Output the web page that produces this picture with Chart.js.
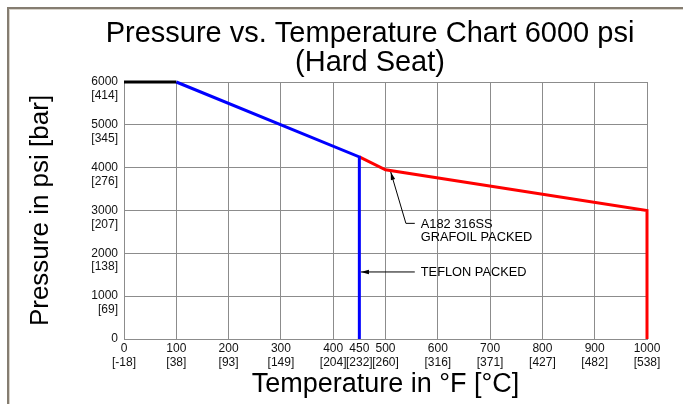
<!DOCTYPE html>
<html lang="en">
  <head>
    <meta charset="UTF-8" />
    <meta name="viewport" content="width=device-width, initial-scale=1.0" />
    <title>Pressure vs. Temperature Chart</title>
    <script src="https://cdn.jsdelivr.net/npm/chart.js@4.4.0/dist/chart.umd.min.js"></script>
    <style>
      body {
        margin: 0;
        background-color: white;
        overflow: hidden;
      }
      .frame {
        position: absolute;
        left: 7px;
        top: 7px;
        width: 760px;
        height: 460px;
        border-left: 2px solid #857d71;
        border-top: 2px solid #857d71;
        box-shadow: inset 1px 1px 0 #d8d3ca;
      }
      #myChart {
        position: absolute;
        left: 0;
        top: 0;
      }
    </style>
  </head>
  <body>
    <div class="frame"></div>
    <canvas id="myChart" width="683" height="404"></canvas>

    <script>
      const titleLines = ['Pressure vs. Temperature Chart 6000 psi', '(Hard Seat)'];

      // axis ticks: deg F with deg C underneath, psi with bar underneath
      const tempF = [0, 100, 200, 300, 400, 450, 500, 600, 700, 800, 900, 1000];
      const tempC = [-18, 38, 93, 149, 204, 232, 260, 316, 371, 427, 482, 538];
      const psiTicks = [0, 1000, 2000, 3000, 4000, 5000, 6000];
      const barTicks = [0, 69, 138, 207, 276, 345, 414];

      // rating curves
      const ratedTemp = [0, 100];
      const ratedPsi = [6000, 6000];
      const teflonTemp = [100, 450, 450];
      const teflonPsi = [6000, 4250, 0];
      const grafoilTemp = [450, 500, 1000, 1000];
      const grafoilPsi = [4250, 3950, 3000, 0];

      const fontFamily = "'Liberation Sans', Arial, sans-serif";

      function toPoints(xs, ys) {
        return xs.map((x, i) => ({ x: x, y: ys[i] }));
      }

      // callouts, placed in temperature / pressure units
      const callouts = [
        { text: ['A182 316SS', 'GRAFOIL PACKED'], tip: [510, 3900], bend: [539, 2700], end: [556, 2700] },
        { text: ['TEFLON PACKED'], tip: [453, 1565], end: [556, 1565] }
      ];

      const titlePlugin = {
        id: 'twoLineTitle',
        afterDraw(chart) {
          const ctx = chart.ctx;
          ctx.save();
          ctx.fillStyle = '#000';
          ctx.font = '29px ' + fontFamily;
          ctx.textAlign = 'center';
          ctx.textBaseline = 'middle';
          titleLines.forEach((line, i) => ctx.fillText(line, 370, 34 + i * 29));
          ctx.restore();
        }
      };

      function arrowHead(ctx, x0, y0, x1, y1) {
        // filled head at (x1, y1), pointing away from (x0, y0)
        const a = Math.atan2(y1 - y0, x1 - x0);
        const len = 8, w = 2.2;
        ctx.beginPath();
        ctx.moveTo(x1, y1);
        ctx.lineTo(x1 - len * Math.cos(a) + w * Math.sin(a), y1 - len * Math.sin(a) - w * Math.cos(a));
        ctx.lineTo(x1 - len * Math.cos(a) - w * Math.sin(a), y1 - len * Math.sin(a) + w * Math.cos(a));
        ctx.closePath();
        ctx.fill();
      }

      const calloutPlugin = {
        id: 'callouts',
        afterDatasetsDraw(chart) {
          const { ctx, scales: { x, y } } = chart;
          ctx.save();
          ctx.strokeStyle = '#000';
          ctx.fillStyle = '#000';
          ctx.lineWidth = 1;
          ctx.font = '12.8px ' + fontFamily;
          ctx.textAlign = 'left';
          ctx.textBaseline = 'middle';
          callouts.forEach(c => {
            const pts = [c.tip, c.bend, c.end].filter(Boolean)
              .map(p => [x.getPixelForValue(p[0]), y.getPixelForValue(p[1])]);
            ctx.beginPath();
            pts.forEach((p, i) => (i ? ctx.lineTo(p[0], p[1]) : ctx.moveTo(p[0], p[1])));
            ctx.stroke();
            arrowHead(ctx, pts[1][0], pts[1][1], pts[0][0], pts[0][1]);
            const last = pts[pts.length - 1];
            c.text.forEach((t, i) => ctx.fillText(t, last[0] + 6, last[1] + 1 + i * 13));
          });
          ctx.restore();
        }
      };

      const gridColor = '#8c8c8c';
      const tickFont = { family: fontFamily, size: 12, lineHeight: 1.15 };

      const ctx = document.getElementById('myChart').getContext('2d');
      const myChart = new Chart(ctx, {
        type: 'line',
        data: {
          datasets: [
            { label: 'Rated', data: toPoints(ratedTemp, ratedPsi), borderColor: '#000000' },
            { label: 'Teflon packed', data: toPoints(teflonTemp, teflonPsi), borderColor: '#0000ff' },
            { label: 'A182 316SS Grafoil packed', data: toPoints(grafoilTemp, grafoilPsi), borderColor: '#ff0000' }
          ]
        },
        options: {
          responsive: false,
          animation: false,
          clip: false,
          layout: { padding: { left: 10, right: 36, top: 82, bottom: 0 } },
          elements: {
            line: { borderWidth: 3, tension: 0, borderCapStyle: 'butt', borderJoinStyle: 'miter' },
            point: { radius: 0, hoverRadius: 0 }
          },
          plugins: {
            legend: { display: false },
            title: { display: false },
            tooltip: { enabled: false }
          },
          scales: {
            x: {
              type: 'linear',
              min: 0,
              max: 1000,
              afterBuildTicks: scale => { scale.ticks = tempF.map(v => ({ value: v })); },
              afterFit: scale => { scale.height = 65; },
              border: { color: gridColor, width: 1 },
              grid: {
                drawTicks: false,
                lineWidth: 1,
                color: c => (c.tick && c.tick.value === 450 ? 'rgba(0,0,0,0)' : gridColor)
              },
              ticks: {
                autoSkip: false,
                maxRotation: 0,
                minRotation: 0,
                padding: 3,
                color: '#111',
                font: tickFont,
                callback: value => [String(value), '[' + tempC[tempF.indexOf(value)] + ']']
              },
              title: {
                display: true,
                text: 'Temperature in °F [°C]',
                color: '#000',
                font: { family: fontFamily, size: 27, lineHeight: 1.2 },
                padding: { top: 0, bottom: 3 }
              }
            },
            y: {
              min: 0,
              max: 6000,
              afterBuildTicks: scale => { scale.ticks = psiTicks.map(v => ({ value: v })); },
              afterFit: scale => { scale.width = 114; },
              border: { color: gridColor, width: 1 },
              grid: { drawTicks: false, lineWidth: 1, color: gridColor },
              ticks: {
                autoSkip: false,
                padding: 6,
                color: '#111',
                font: tickFont,
                callback: value => {
                  const i = psiTicks.indexOf(value);
                  return value === 0 ? '0' : ['', String(value), '[' + barTicks[i] + ']'];
                }
              },
              title: {
                display: true,
                text: 'Pressure in psi [bar]',
                color: '#000',
                font: { family: fontFamily, size: 26, lineHeight: 1.2 },
                padding: { top: 15, bottom: 0 }
              }
            }
          }
        },
        plugins: [titlePlugin, calloutPlugin]
      });
    </script>
  </body>
</html>
